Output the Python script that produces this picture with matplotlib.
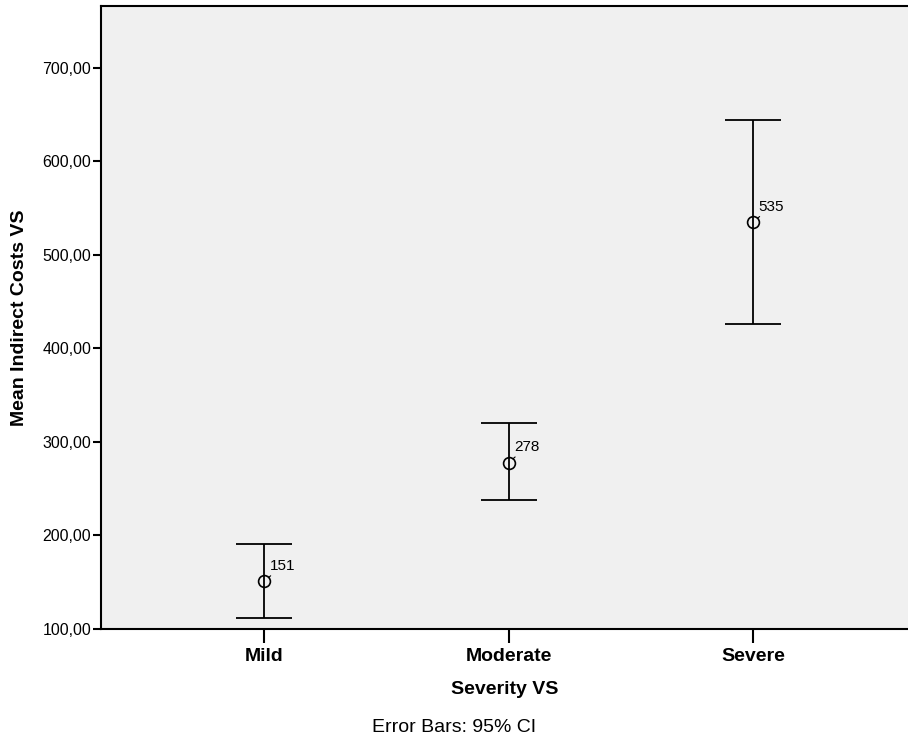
import matplotlib
matplotlib.use('Agg')
import matplotlib.pyplot as plt
from matplotlib.ticker import FuncFormatter

plt.rcParams['font.family'] = ['Liberation Sans', 'DejaVu Sans']

categories = ['Mild', 'Moderate', 'Severe']
means = [151, 278, 535]
ci_low = [111.8, 237.5, 426.0]
ci_high = [191.0, 320.5, 644.4]

fig = plt.figure(figsize=(9.08, 7.39), dpi=100)
ax = fig.add_axes((0.1112, 0.1488, 0.8888, 0.8431))
ax.set_facecolor('#f0f0f0')

xs = list(range(len(categories)))
err = [[m - lo for m, lo in zip(means, ci_low)],
       [hi - m for m, hi in zip(means, ci_high)]]
ax.errorbar(xs, means, yerr=err, fmt='none', ecolor='black', elinewidth=1.3,
            capsize=20, capthick=1.3)
ax.plot(xs, means, linestyle='none', marker='o', markersize=8.5,
        markerfacecolor='none', markeredgecolor='black', markeredgewidth=1.2)

for x, m in zip(xs, means):
    ax.annotate(str(m), xy=(x, m), xytext=(4, 6), textcoords='offset points',
                fontsize=11, ha='left', va='bottom',
                arrowprops=dict(arrowstyle='-', color='black', lw=0.8,
                                shrinkA=0, shrinkB=4))

ax.set_xlim(-0.667, 2.634)
ax.set_ylim(100, 766)
ax.set_yticks([100, 200, 300, 400, 500, 600, 700])
ax.yaxis.set_major_formatter(FuncFormatter(lambda v, p: f'{v:.2f}'.replace('.', ',')))
ax.set_xticks(xs)
ax.set_xticklabels(categories, fontweight='bold', fontsize=14)
ax.tick_params(axis='y', length=6, width=1.5, labelsize=11.5, pad=1)
ax.tick_params(axis='x', length=10, width=1.5, pad=4)
for s in ax.spines.values():
    s.set_linewidth(1.5)
ax.spines['right'].set_visible(False)

ax.set_xlabel('Severity VS', fontweight='bold', fontsize=14, labelpad=11)
ax.set_ylabel('Mean Indirect Costs VS', fontweight='bold', fontsize=14, labelpad=10)
fig.text(0.5, 1 - 727 / 739, 'Error Bars: 95% CI', ha='center', va='center', fontsize=14)

fig.savefig('out.png', dpi=100)
